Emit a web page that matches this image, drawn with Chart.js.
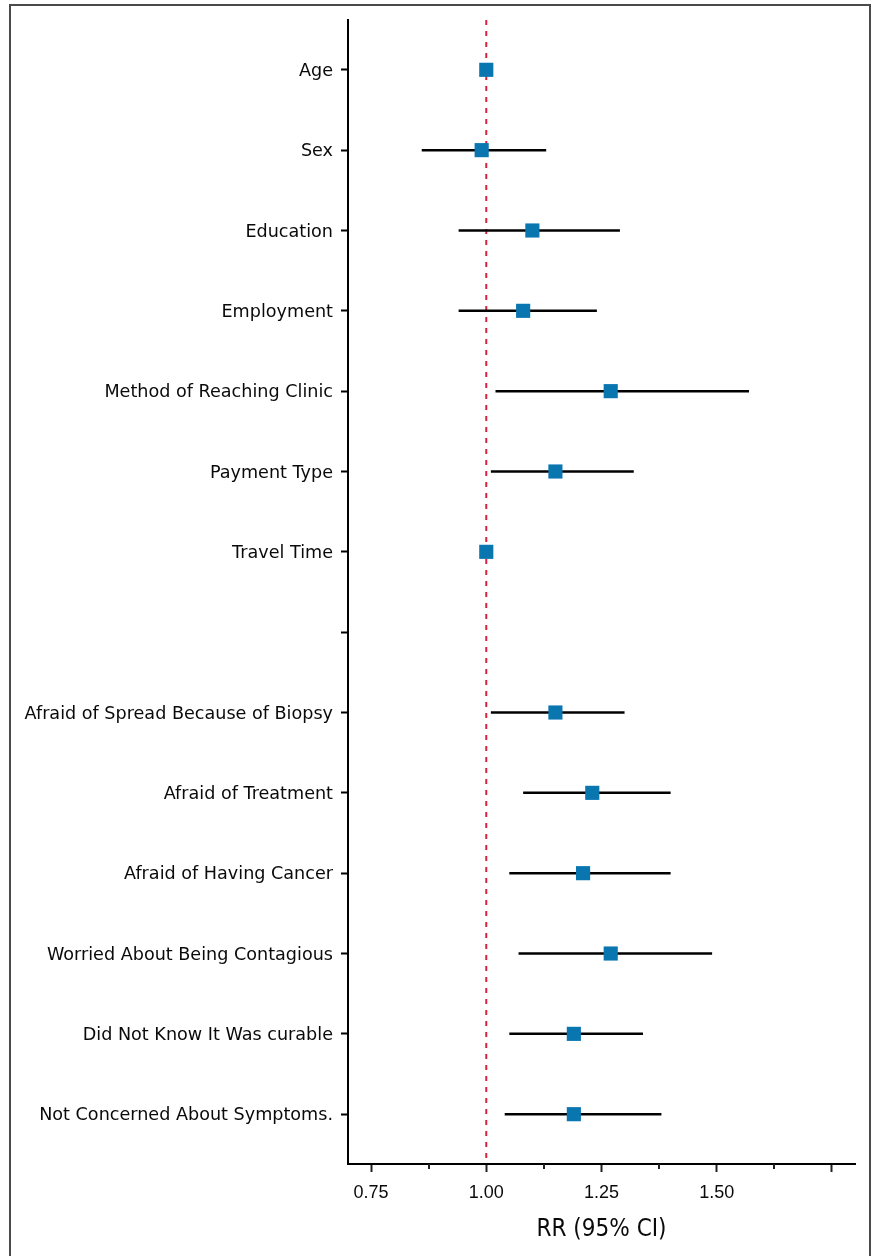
<!DOCTYPE html>
<html>
<head>
<meta charset="utf-8">
<script src="https://cdn.jsdelivr.net/npm/chart.js@4.4.1/dist/chart.umd.min.js"></script>
<style>
  html, body { margin: 0; padding: 0; background: #fff; }
  #wrap { position: relative; width: 876px; height: 1256px; overflow: hidden; }
  #frame { position: absolute; left: 9px; top: 4px; width: 862px; height: 1300px;
           border: 2px solid #4a4a4a; box-sizing: border-box; pointer-events: none; }
  canvas { position: absolute; left: 0; top: 0; }
</style>
</head>
<body>
<div id="wrap">
  <canvas id="c" width="876" height="1256"></canvas>
  <div id="frame"></div>
</div>
<script>
// Factors (top to bottom); the empty entry separates the two groups
const factors = [
  'Age', 'Sex', 'Education', 'Employment', 'Method of Reaching Clinic',
  'Payment Type', 'Travel Time', '',
  'Afraid of Spread Because of Biopsy', 'Afraid of Treatment',
  'Afraid of Having Cancer', 'Worried About Being Contagious',
  'Did Not Know It Was curable', 'Not Concerned About Symptoms.'
];
// Relative risk and 95% confidence limits
const rr     = [1.00, 0.99, 1.10, 1.08, 1.27, 1.15, 1.00, null, 1.15, 1.23, 1.21, 1.27, 1.19, 1.19];
const ciLow  = [null, 0.86, 0.94, 0.94, 1.02, 1.01, null, null, 1.01, 1.08, 1.05, 1.07, 1.05, 1.04];
const ciHigh = [null, 1.13, 1.29, 1.24, 1.57, 1.32, null, null, 1.30, 1.40, 1.40, 1.49, 1.34, 1.38];

// X axis ticks (odd positions are minor ticks)
const xTicks      = [0.75, 0.875, 1.00, 1.125, 1.25, 1.375, 1.50, 1.625, 1.75];
const xTickLabels = ['0.75', '', '1.00', '', '1.25', '', '1.50', '', ''];
const refValue = 1.0;

const X_MIN = 0.70, X_MAX = 1.80;
const Y_MIN = -0.62, Y_MAX = factors.length - 1 + 0.62;

const BLUE = '#0a76b0';
const RED = '#d9233d';

const datasets = [];

// estimates
datasets.push({
  type: 'scatter',
  label: 'RR',
  data: rr.map((v, i) => v === null ? null : { x: v, y: i }).filter(p => p),
  pointStyle: 'rect',
  pointRadius: 10,
  pointHoverRadius: 10,
  backgroundColor: BLUE,
  borderColor: BLUE,
  pointBorderWidth: 0,
  order: 0
});

// confidence intervals
factors.forEach((f, i) => {
  if (ciLow[i] === null || ciHigh[i] === null) return;
  datasets.push({
    type: 'line',
    label: f + ' CI',
    data: [{ x: ciLow[i], y: i }, { x: ciHigh[i], y: i }],
    borderColor: '#000',
    borderWidth: 2.5,
    pointRadius: 0,
    fill: false,
    order: 1
  });
});

// reference line at RR = 1
datasets.push({
  type: 'line',
  label: 'ref',
  data: [{ x: refValue, y: Y_MIN }, { x: refValue, y: Y_MAX }],
  borderColor: RED,
  borderWidth: 2,
  borderDash: [5, 6],
  pointRadius: 0,
  fill: false,
  order: 2
});

// shorter minor ticks on the x axis
const minorTicks = {
  id: 'minorTicks',
  afterDraw(chart) {
    const xs = chart.scales.x;
    const ctx = chart.ctx;
    const y0 = chart.chartArea.bottom;
    ctx.save();
    ctx.strokeStyle = '#222';
    ctx.lineWidth = 2;
    xTicks.forEach((v, i) => {
      if (i % 2 === 0) return;
      const x = Math.round(xs.getPixelForValue(v));
      ctx.beginPath();
      ctx.moveTo(x, y0);
      ctx.lineTo(x, y0 + 5);
      ctx.stroke();
    });
    ctx.restore();
  }
};

new Chart(document.getElementById('c'), {
  type: 'scatter',
  data: { datasets },
  plugins: [minorTicks],
  options: {
    responsive: false,
    animation: false,
    events: [],
    layout: { padding: { top: 20, right: 21, left: 0, bottom: 0 } },
    plugins: { legend: { display: false }, tooltip: { enabled: false } },
    scales: {
      x: {
        type: 'linear',
        min: X_MIN,
        max: X_MAX,
        afterBuildTicks: (s) => { s.ticks = xTicks.map(v => ({ value: v })); },
        afterFit: (s) => { s.height = 92; },
        grid: {
          drawOnChartArea: false,
          drawTicks: true,
          tickLength: 8,
          tickWidth: 2,
          tickColor: (c) => (c.index % 2 === 1 ? 'rgba(0,0,0,0)' : '#222')
        },
        border: { display: true, color: '#000', width: 2 },
        ticks: {
          autoSkip: false,
          maxRotation: 0,
          padding: 10,
          color: '#0a0a0a',
          font: { family: '"Liberation Sans", Arial, sans-serif', size: 18 },
          callback: (v, i) => xTickLabels[i]
        },
        title: {
          display: true,
          text: 'RR (95% CI)',
          color: '#0a0a0a',
          font: { family: '"Liberation Sans Narrow", "DejaVu Sans Condensed", sans-serif', size: 24 },
          padding: { top: 0, bottom: 12 }
        }
      },
      y: {
        type: 'linear',
        reverse: true,
        min: Y_MIN,
        max: Y_MAX,
        afterBuildTicks: (s) => { s.ticks = factors.map((_, i) => ({ value: i })); },
        afterFit: (s) => { s.width = 348; },
        grid: {
          drawOnChartArea: false,
          drawTicks: true,
          tickLength: 7,
          tickWidth: 2,
          tickColor: '#000'
        },
        border: { display: true, color: '#000', width: 2 },
        ticks: {
          autoSkip: false,
          padding: 8,
          labelOffset: 1.5,
          color: '#0a0a0a',
          font: { family: '"DejaVu Sans", sans-serif', size: 17.6 },
          callback: (v) => factors[v]
        }
      }
    }
  }
});
</script>
</body>
</html>
